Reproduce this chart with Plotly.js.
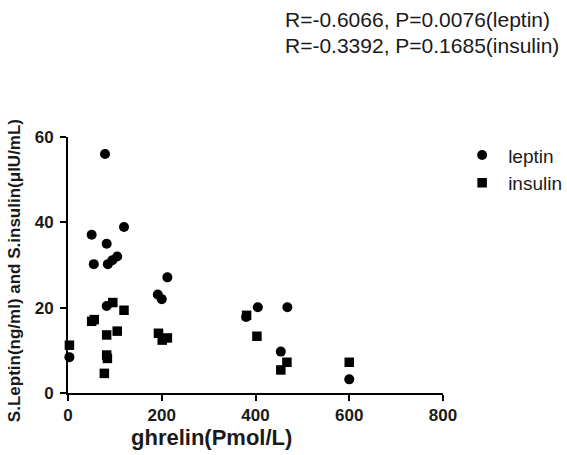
<!DOCTYPE html>
<html>
<head>
<meta charset="utf-8">
<script src="https://cdn.plot.ly/plotly-3.0.1.min.js"></script>
<style>html,body{margin:0;padding:0;background:#fff;}#chart{width:567px;height:455px;}</style>
</head>
<body>
<div id="chart"></div>
<script>
// Leptin (ng/ml) vs ghrelin (Pmol/L)
var leptinGhrelin = [79, 119.5, 50.5, 82.5, 105, 94.5, 85, 55, 212, 191.5, 200, 82.5, 3, 380, 405, 468, 454, 600];
var leptinValues  = [56, 38.9, 37.1, 35.0, 32.0, 31.1, 30.2, 30.2, 27.1, 23.1, 22.0, 20.4, 8.4, 17.8, 20.1, 20.1, 9.7, 3.2];
// Insulin (µIU/mL) vs ghrelin (Pmol/L)
var insulinGhrelin = [3, 50.5, 56, 82.5, 82.5, 84, 77.5, 95.5, 119.5, 105, 193, 201, 212, 381, 403, 467, 454, 600];
var insulinValues  = [11.2, 16.8, 17.2, 13.6, 8.9, 8.1, 4.6, 21.2, 19.4, 14.5, 14.0, 12.4, 12.9, 18.2, 13.3, 7.2, 5.4, 7.2];

var xTicks = [0, 200, 400, 600, 800];
var yTicks = [0, 20, 40, 60];
var statLines = ["R=-0.6066, P=0.0076(leptin)", "R=-0.3392, P=0.1685(insulin)"];
var xTitle = "ghrelin(Pmol/L)";
var yTitle = "S.Leptin(ng/ml) and S.insulin(\u03bcIU/mL)";

var txt = '#1a1a1a';
var fam = 'Liberation Sans, Arial, sans-serif';

var traces = [
  {x: leptinGhrelin, y: leptinValues, name: 'leptin', type: 'scatter', mode: 'markers',
   legendgroup: 'a', marker: {symbol: 'circle', size: 10, color: '#000'}, cliponaxis: false},
  {x: insulinGhrelin, y: insulinValues, name: 'insulin', type: 'scatter', mode: 'markers',
   legendgroup: 'b', marker: {symbol: 'square', size: 9.5, color: '#000'}, cliponaxis: false}
];

var layout = {
  width: 567, height: 455,
  margin: {l: 68, r: 124, t: 137, b: 62, autoexpand: false},
  paper_bgcolor: '#fff', plot_bgcolor: '#fff',
  font: {family: fam, color: txt},
  showlegend: true,
  legend: {x: 1.035, y: 1.003, xanchor: 'left', yanchor: 'top', traceorder: 'grouped',
           itemwidth: 42, tracegroupgap: 0,
           font: {size: 19, color: txt, family: fam}, bgcolor: 'rgba(0,0,0,0)'},
  xaxis: {range: [0, 800], tickvals: xTicks, ticktext: xTicks.map(String),
          showgrid: false, zeroline: false, showline: true, linecolor: '#000', linewidth: 2,
          ticks: 'outside', ticklen: 6, tickwidth: 2, tickcolor: '#000',
          tickfont: {size: 17, weight: 'bold', color: txt, family: fam}},
  yaxis: {range: [0, 60], tickvals: yTicks, ticktext: yTicks.map(String),
          showgrid: false, zeroline: false, showline: true, linecolor: '#000', linewidth: 2,
          ticks: 'outside', ticklen: 6, tickwidth: 2, tickcolor: '#000', ticklabelstandoff: 3,
          tickfont: {size: 17, weight: 'bold', color: txt, family: fam}},
  annotations: [
    {text: statLines[0], xref: 'paper', yref: 'paper', x: 0.574, y: 1.458, xanchor: 'left', yanchor: 'middle',
     showarrow: false, font: {size: 21, color: txt, family: fam}},
    {text: statLines[1], xref: 'paper', yref: 'paper', x: 0.574, y: 1.358, xanchor: 'left', yanchor: 'middle',
     showarrow: false, font: {size: 21, color: txt, family: fam}},
    {text: xTitle, xref: 'paper', yref: 'paper', x: 0.382, y: -0.172, xanchor: 'center', yanchor: 'middle',
     showarrow: false, font: {size: 22, weight: 'bold', color: txt, family: fam}},
    {text: yTitle, xref: 'paper', yref: 'paper', x: -0.144, y: 0.476, xanchor: 'center', yanchor: 'middle',
     textangle: -90, showarrow: false, font: {size: 17, weight: 'bold', color: txt, family: fam}}
  ]
};

Plotly.newPlot('chart', traces, layout, {displayModeBar: false, staticPlot: true});
</script>
</body>
</html>
